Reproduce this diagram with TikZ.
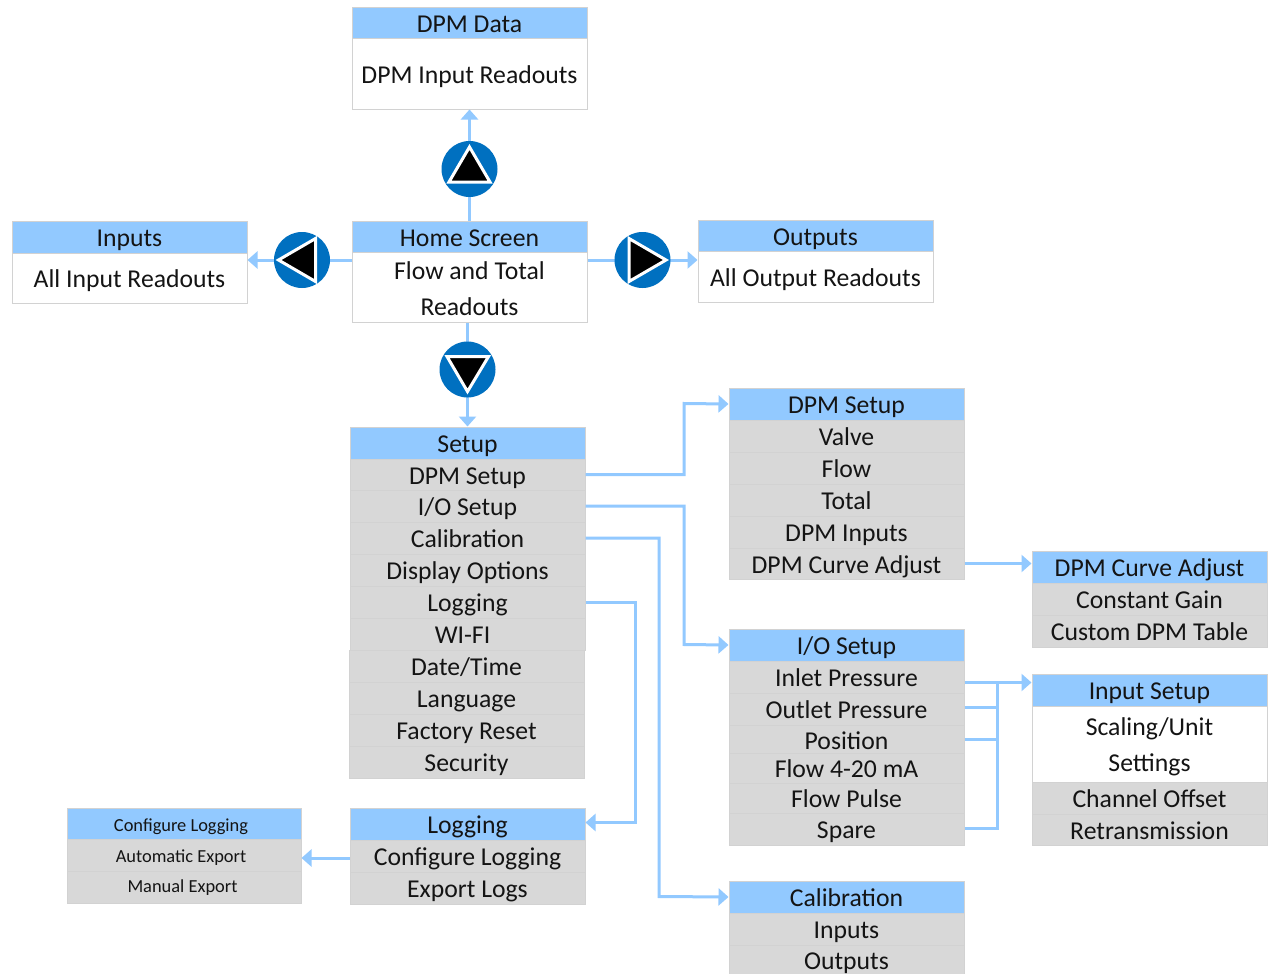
\documentclass[tikz,border=0pt]{standalone}
\usepackage{fontspec}
\setmainfont{Carlito}
\usetikzlibrary{arrows.meta,calc}
\definecolor{hdr}{HTML}{92C9FF}
\definecolor{rowgray}{HTML}{D8D8D8}
\definecolor{edge}{HTML}{D2D2D2}
\definecolor{btnblue}{HTML}{0070C0}
\definecolor{ink}{HTML}{141414}
\tikzset{
  cellbox/.style={draw=edge,line width=1pt,inner sep=0pt,anchor=north west,text=ink,
    font=\fontsize{25.7}{36}\selectfont,text height=23pt,text depth=4pt},
  head/.style={cellbox,fill=hdr,draw=edge},
  row/.style={cellbox,fill=rowgray},
  plain/.style={cellbox,fill=white},
  multi/.style={draw=edge,line width=1pt,inner sep=0pt,anchor=north west,fill=white},
  multitext/.style={inner sep=0pt,text=ink,font=\fontsize{25.7}{36}\selectfont,align=center},
  tiny/.style={font=\fontsize{18.4}{20}\selectfont,text height=18pt,text depth=3pt},
  link/.style={draw=hdr,line width=3pt},
  arrowed/.style={link,-{Triangle[length=10pt,width=17pt]}},
  btn/.style={circle,fill=btnblue,minimum size=56pt,inner sep=0pt},
  tri/.style={fill=black,draw=white,line width=3pt,line join=miter}
}
\newcommand{\cell}[7]{\node[#1,minimum width=#4pt,minimum height=#5pt] (#2) at (#3) {#6};}
\begin{document}
\begin{tikzpicture}[x=1pt,y=-1pt]
\useasboundingbox (0.5,0.5) rectangle (1270.5,974.5);
\fill[white] (0.5,0.5) rectangle (1270.5,974.5);
% top
\cell{head}{datah}{352,8}{235}{31}{DPM Data}{}
\cell{plain}{datab}{352,39}{235}{70}{DPM Input Readouts}{}
\cell{head}{homeh}{352,221}{235}{31}{Home Screen}{}
\cell{multi}{homeb}{352,252}{235}{70}{}{}
\node[multitext] (homet) at ([yshift=-1.2pt]homeb.center) {Flow and Total\\Readouts};
\cell{head}{inh}{12,221}{235}{32}{Inputs}{}
\cell{plain}{inb}{12,253}{235}{50}{All Input Readouts}{}
\cell{head}{outh}{698,220}{235}{31}{Outputs}{}
\cell{plain}{outb}{698,251}{235}{51}{All Output Readouts}{}
% setup
\cell{head}{seth}{350,427}{235}{32}{Setup}{}
\cell{row}{s1}{350,459}{235}{31}{DPM Setup}{}
\cell{row}{s2}{350,490}{235}{32}{I/O Setup}{}
\cell{row}{s3}{350,522}{235}{32}{Calibration}{}
\cell{row}{s4}{350,554}{235}{32}{Display Options}{}
\cell{row}{s5}{350,586}{235}{32}{Logging}{}
\cell{row}{s6}{350,618}{235}{32}{\hspace*{-10pt}WI-FI}{}
\cell{row}{s7}{349,650}{235}{32}{Date/Time}{}
\cell{row}{s8}{349,682}{235}{32}{Language}{}
\cell{row}{s9}{349,714}{235}{32}{Factory Reset}{}
\cell{row}{s10}{349,746}{235}{32}{Security}{}
% logging
\cell{head}{logh}{350,808}{235}{32}{Logging}{}
\cell{row}{l1}{350,840}{235}{32}{Configure Logging}{}
\cell{row}{l2}{350,872}{235}{32}{Export Logs}{}
\cell{head,tiny}{cfgh}{67,808}{234}{31}{\hspace*{-6pt}Configure Logging}{}
\cell{row,tiny}{c1}{67,839}{234}{32}{\hspace*{-6pt}Automatic Export}{}
\cell{row,tiny}{c2}{67,871}{234}{32}{\hspace*{-3pt}\raisebox{2pt}{Manual Export}}{}
% dpm setup
\cell{head}{dh}{729,388}{235}{32}{DPM Setup}{}
\cell{row}{d1}{729,420}{235}{32}{Valve}{}
\cell{row}{d2}{729,452}{235}{32}{Flow}{}
\cell{row}{d3}{729,484}{235}{32}{Total}{}
\cell{row}{d4}{729,516}{235}{32}{DPM Inputs}{}
\cell{row}{d5}{729,548}{235}{31}{DPM Curve Adjust}{}
% curve
\cell{head}{ch}{1032,551}{235}{32}{DPM Curve Adjust}{}
\cell{row}{c3}{1032,583}{235}{32}{Constant Gain}{}
\cell{row}{c4}{1032,615}{235}{32}{Custom DPM Table}{}
% io
\cell{head}{ioh}{729,629}{235}{32}{I/O Setup}{}
\cell{row}{i1}{729,661}{235}{32}{Inlet Pressure}{}
\cell{row}{i2}{729,693}{235}{32}{Outlet Pressure}{}
\cell{row}{i3}{729,725}{235}{28}{\raisebox{-1pt}{Position}}{}
\cell{row}{i4}{729,753}{235}{30}{Flow 4-20 mA}{}
\cell{row}{i5}{729,783}{235}{30}{Flow Pulse}{}
\cell{row}{i6}{729,813}{235}{32}{Spare}{}
% input setup
\cell{head}{ish}{1032,674}{235}{32}{Input Setup}{}
\cell{multi}{isb}{1032,706}{235}{76}{}{}
\node[multitext] (ist) at ([yshift=-3pt]isb.center) {Scaling/Unit\\Settings};
\cell{row}{is1}{1032,782}{235}{32}{Channel Offset}{}
\cell{row}{is2}{1032,814}{235}{31}{Retransmission}{}
% calibration
\cell{head}{calh}{729,881}{235}{32}{Calibration}{}
\cell{row}{k1}{729,913}{235}{32}{Inputs}{}
\cell{row}{k2}{729,945}{235}{32}{\raisebox{1.5pt}{Outputs}}{}
% buttons
\coordinate (pu) at (470,169.5);
\coordinate (pl) at (302.5,260.5);
\coordinate (pr) at (643,260.5);
\coordinate (pd) at (468,370);
% connectors
\draw[arrowed] (homeh.north) -- (datab.south);
\draw[arrowed] (homeh.west |- pl) -- (inb.east |- pl);
\draw[arrowed] (homeh.east |- pr) -- (outh.west |- pr);
\draw[arrowed] (pd |- homeb.south) -- (pd |- seth.north);
\coordinate (b1) at (684.5,404);
\coordinate (b2) at (684.5,645);
\coordinate (b3) at (659.5,897);
\coordinate (b4) at (635.5,823);
\draw[arrowed] (s1.east) -| (b1) -- (dh.west);
\draw[arrowed] (s2.east) -| (b2) -- (ioh.west);
\draw[arrowed] (s3.east) -| (b3) -- (calh.west);
\draw[arrowed] (s5.east) -| (b4) -- (b4 -| logh.east);
\draw[arrowed] ([yshift=-2pt]l1.west) -- ([yshift=-3pt]c1.east);
\draw[arrowed] (d5.east) -- (d5.east -| ch.west);
\coordinate (bus) at (997.5,683);
\draw[arrowed] (bus -| i1.east) -- (bus -| ish.west);
\draw[link] (i2.east |- 0,708) -| (bus);
\draw[link] (i3.east |- 0,739.5) -| (bus);
\draw[link] (i6.east |- 0,828.5) -| (bus);
% buttons on top
\node[btn] (bu) at (pu) {};
\node[btn] (bl) at (pl) {};
\node[btn] (br) at (pr) {};
\node[btn] (bd) at (pd) {};
\draw[tri] (470,147.5) -- (449.5,182.5) -- (490.5,182.5) -- cycle;
\draw[tri] (279,260.5) -- (316,239) -- (316,282) -- cycle;
\draw[tri] (666.5,260.5) -- (629.5,239) -- (629.5,282) -- cycle;
\draw[tri] (468,392) -- (447.5,357) -- (489,357) -- cycle;
\end{tikzpicture}
\end{document}
